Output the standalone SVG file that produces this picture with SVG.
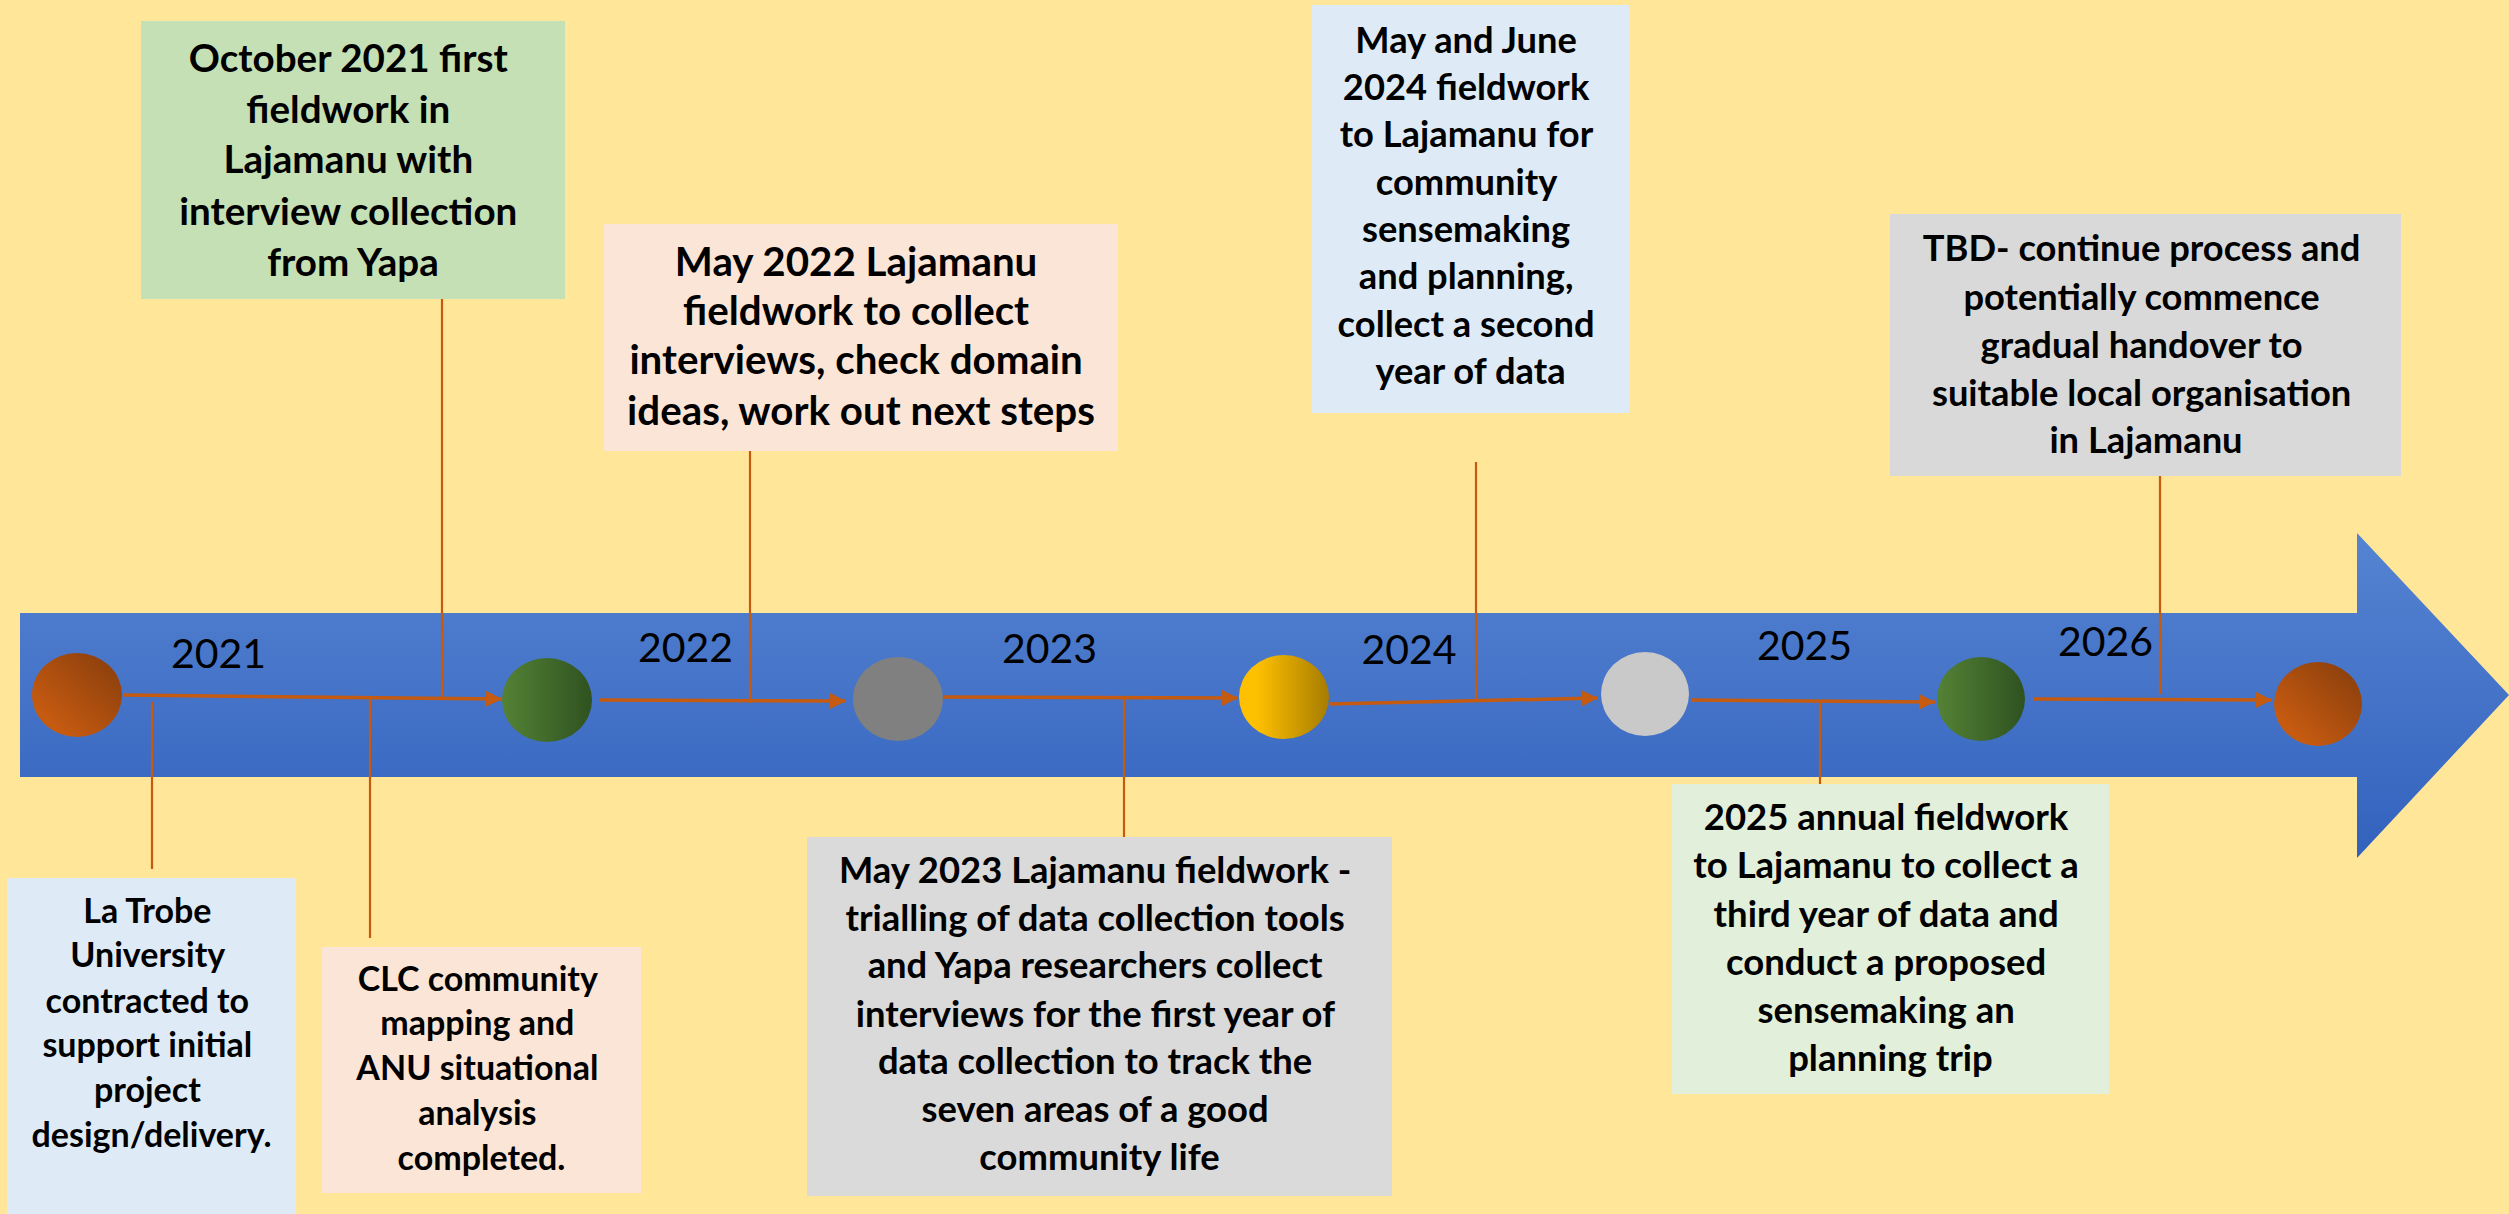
<svg xmlns="http://www.w3.org/2000/svg" width="2509" height="1214" viewBox="0 0 2509 1214">
<defs>
<linearGradient id="band" x1="0" y1="0" x2="0" y2="1">
<stop offset="0" stop-color="#5584D2"/><stop offset="1" stop-color="#3362BE"/>
</linearGradient>
<linearGradient id="orange" x1="0" y1="1" x2="1" y2="0">
<stop offset="0.2" stop-color="#C55A11"/><stop offset="1" stop-color="#843C0C"/>
</linearGradient>
<linearGradient id="green" x1="0" y1="0" x2="1" y2="0">
<stop offset="0" stop-color="#548235"/><stop offset="1" stop-color="#2F5220"/>
</linearGradient>
<linearGradient id="yellow" x1="0" y1="0" x2="1" y2="0">
<stop offset="0.2" stop-color="#FFC000"/><stop offset="1" stop-color="#A67C00"/>
</linearGradient>
<marker id="ah" markerUnits="userSpaceOnUse" markerWidth="17" markerHeight="16" refX="16" refY="8" orient="auto">
<path d="M0,0 L16,8 L0,16 z" fill="#C55A11"/>
</marker>
<style>
.bx{font-family:Lato,"Liberation Sans",sans-serif;font-weight:bold;fill:#000;text-anchor:middle}
.yr{font-family:Lato,"Liberation Sans",sans-serif;font-size:41px;fill:#000;text-anchor:middle}
.h{stroke:#C55A11;stroke-width:3.5;fill:none;marker-end:url(#ah)}
.v{stroke:#C55A11;stroke-width:2.2;fill:none}
</style>
</defs>
<rect width="2509" height="1214" fill="#FFE699"/>

<g id="timeline-arrow">
<path d="M20,613 L2357,613 L2357,533 L2509,695 L2357,858 L2357,777 L20,777 z" fill="url(#band)"/>
</g>

<g id="connectors">
<path class="h" d="M123,695 L502,699"/>
<path class="h" d="M600,700 L846,701"/>
<path class="h" d="M944,697 L1238,698"/>
<path class="h" d="M1330,704 L1598,698"/>
<path class="h" d="M1691,700 L1935,702"/>
<path class="h" d="M2033,699 L2272,700"/>
<path class="v" d="M152,702 L152,869"/>
<path class="v" d="M370,698 L370,938"/>
<path class="v" d="M442,296 L442,698"/>
<path class="v" d="M750,451 L750,703"/>
<path class="v" d="M1124,698 L1124,837"/>
<path class="v" d="M1476,462 L1476,699"/>
<path class="v" d="M1820,700 L1820,784"/>
<path class="v" d="M2160,476 L2160,694"/>
</g>

<g id="milestones">
<ellipse id="m1" cx="77" cy="695" rx="45" ry="42" fill="url(#orange)"/>
<ellipse id="m2" cx="547" cy="700" rx="45" ry="42" fill="url(#green)"/>
<ellipse id="m3" cx="898" cy="699" rx="45" ry="42" fill="#808080"/>
<ellipse id="m4" cx="1284" cy="697" rx="45" ry="42" fill="url(#yellow)"/>
<ellipse id="m5" cx="1645" cy="694" rx="44" ry="42" fill="#C9C9C9"/>
<ellipse id="m6" cx="1981" cy="699" rx="44" ry="42" fill="url(#green)"/>
<ellipse id="m7" cx="2318" cy="704" rx="44" ry="42" fill="url(#orange)"/>
</g>

<g id="years">
<text class="yr" x="218.5" y="668">2021</text>
<text class="yr" x="685.5" y="662">2022</text>
<text class="yr" x="1049.5" y="663">2023</text>
<text class="yr" x="1409" y="664">2024</text>
<text class="yr" x="1804.5" y="660">2025</text>
<text class="yr" x="2105.5" y="656">2026</text>
</g>

<g id="box-oct2021">
<rect x="141" y="21" width="424" height="278" fill="#C5E0B4"/>
<text class="bx" font-size="38.6">
<tspan x="353" y="72">October 2021 first</tspan>
<tspan x="353" y="123">fieldwork in</tspan>
<tspan x="353" y="173">Lajamanu with</tspan>
<tspan x="353" y="225">interview collection</tspan>
<tspan x="353" y="276">from Yapa</tspan>
</text>
</g>

<g id="box-may2022">
<rect x="604" y="224" width="514" height="227" fill="#FBE5D6"/>
<text class="bx" font-size="40.3">
<tspan x="861" y="276">May 2022 Lajamanu</tspan>
<tspan x="861" y="325">fieldwork to collect</tspan>
<tspan x="861" y="374">interviews, check domain</tspan>
<tspan x="861" y="425">ideas, work out next steps</tspan>
</text>
</g>

<g id="box-2024">
<rect x="1312" y="5" width="317" height="408" fill="#DEEBF7"/>
<text class="bx" font-size="36.3">
<tspan x="1470.5" y="53">May and June</tspan>
<tspan x="1470.5" y="100">2024 fieldwork</tspan>
<tspan x="1470.5" y="147">to Lajamanu for</tspan>
<tspan x="1470.5" y="195">community</tspan>
<tspan x="1470.5" y="242">sensemaking</tspan>
<tspan x="1470.5" y="289">and planning,</tspan>
<tspan x="1470.5" y="337">collect a second</tspan>
<tspan x="1470.5" y="384">year of data</tspan>
</text>
</g>

<g id="box-tbd">
<rect x="1890" y="214" width="511" height="262" fill="#D9D9D9"/>
<text class="bx" font-size="36.3">
<tspan x="2146" y="261">TBD- continue process and</tspan>
<tspan x="2146" y="310">potentially commence</tspan>
<tspan x="2146" y="358">gradual handover to</tspan>
<tspan x="2146" y="406">suitable local organisation</tspan>
<tspan x="2146" y="453">in Lajamanu</tspan>
</text>
</g>

<g id="box-latrobe">
<rect x="7" y="878" width="289" height="340" fill="#DEEBF7"/>
<text class="bx" font-size="34">
<tspan x="151.5" y="922.7">La Trobe</tspan>
<tspan x="151.5" y="967">University</tspan>
<tspan x="151.5" y="1012.7">contracted to</tspan>
<tspan x="151.5" y="1057">support initial</tspan>
<tspan x="151.5" y="1102">project</tspan>
<tspan x="151.5" y="1147">design/delivery.</tspan>
</text>
</g>

<g id="box-clc">
<rect x="322" y="947" width="319" height="246" fill="#FBE5D6"/>
<text class="bx" font-size="34">
<tspan x="481.5" y="990.7">CLC community</tspan>
<tspan x="481.5" y="1035">mapping and</tspan>
<tspan x="481.5" y="1080">ANU situational</tspan>
<tspan x="481.5" y="1125">analysis</tspan>
<tspan x="481.5" y="1170">completed.</tspan>
</text>
</g>

<g id="box-may2023">
<rect x="807" y="837" width="585" height="359" fill="#DADADA"/>
<text class="bx" font-size="36.4">
<tspan x="1099.5" y="883">May 2023 Lajamanu fieldwork -</tspan>
<tspan x="1099.5" y="931">trialling of data collection tools</tspan>
<tspan x="1099.5" y="978">and Yapa researchers collect</tspan>
<tspan x="1099.5" y="1027">interviews for the first year of</tspan>
<tspan x="1099.5" y="1074">data collection to track the</tspan>
<tspan x="1099.5" y="1122">seven areas of a good</tspan>
<tspan x="1099.5" y="1170">community life</tspan>
</text>
</g>

<g id="box-2025">
<rect x="1672" y="784" width="437" height="310" fill="#E2EFDA"/>
<text class="bx" font-size="36.5">
<tspan x="1890.5" y="830">2025 annual fieldwork</tspan>
<tspan x="1890.5" y="878">to Lajamanu to collect a</tspan>
<tspan x="1890.5" y="927">third year of data and</tspan>
<tspan x="1890.5" y="975">conduct a proposed</tspan>
<tspan x="1890.5" y="1023">sensemaking an</tspan>
<tspan x="1890.5" y="1071">planning trip</tspan>
</text>
</g>
</svg>
